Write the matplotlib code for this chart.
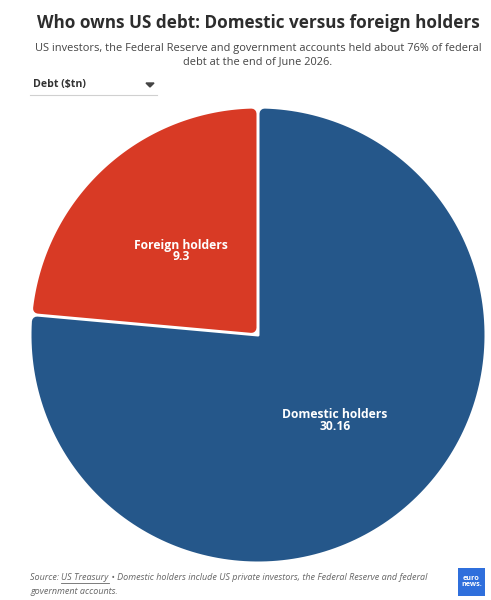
import matplotlib
matplotlib.use("Agg")
import numpy as np
import matplotlib.pyplot as plt
from matplotlib.patches import FancyBboxPatch, Polygon
from matplotlib.lines import Line2D

plt.rcParams['font.family'] = ['Open Sans', 'DejaVu Sans']

# data
labels = ["Foreign holders", "Domestic holders"]
values = [9.3, 30.16]
colors = ["#d83a25", "#25578a"]

title = "Who owns US debt: Domestic versus foreign holders"
subtitle = ("US investors, the Federal Reserve and government accounts held about 76% of federal\n"
            "debt at the end of June 2026.")
dropdown = "Debt ($tn)"

W, H = 491, 600
fig = plt.figure(figsize=(W / 100, H / 100), dpi=100)
# one axes over the whole figure, one data unit = one pixel
ax = fig.add_axes([0, 0, 1, 1])
ax.set_xlim(0, W)
ax.set_ylim(H, 0)
ax.axis("off")


def rounded_wedge(cx, cy, R, a0, a1, corner, gap):
    """Inset wedge polygon (angles in degrees, ccw), to be stroked with width 2*corner."""
    e = corner + gap / 2
    alpha = a1 - a0
    t = np.sqrt((R - e) ** 2 - e ** 2)
    dlt = np.degrees(np.arctan2(e, t))
    arc = np.radians(np.linspace(a0 + dlt, a1 - dlt, 200))
    pts = [(R - e) * np.cos(arc), (R - e) * np.sin(arc)]
    xs, ys = list(pts[0]), list(pts[1])
    if alpha < 180:
        mid = np.radians((a0 + a1) / 2)
        d0 = e / np.sin(np.radians(alpha / 2))
        xs.append(d0 * np.cos(mid))
        ys.append(d0 * np.sin(mid))
    else:
        inner = np.radians(np.linspace(a1 - 90, a0 + 90, 60))
        xs += list(e * np.cos(inner))
        ys += list(e * np.sin(inner))
    return np.column_stack([cx + np.array(xs), cy - np.array(ys)])


# pie
cx, cy, R = 258, 335, 228
corner, gap = 5, 3
fracs = np.array(values) / np.sum(values)
start = 90.0
for frac, col in zip(fracs, colors):
    end = start + 360 * frac
    poly = Polygon(rounded_wedge(cx, cy, R, start, end, corner, gap), closed=True,
                   facecolor=col, edgecolor=col, linewidth=2 * corner * 0.72)
    poly.set_joinstyle("round")
    ax.add_patch(poly)
    start = end

# slice labels
label_pos = [(181, 251), (335, 420)]
for lab, val, (px, py) in zip(labels, values, label_pos):
    ax.text(px, py, f"{lab}\n{val:g}", ha="center", va="center",
            fontsize=8.7, fontweight="bold", color="white", linespacing=0.9)

# header
ax.text(258, 23, title, ha="center", va="center", fontsize=12.3,
        fontweight="bold", color="#2d2d2d")
ax.text(258, 55, subtitle, ha="center", va="center", fontsize=7.9,
        color="#444444", linespacing=1.3)

# dropdown selector
ax.text(33, 85, dropdown, ha="left", va="center", fontsize=7.6,
        fontweight="bold", color="#333333")
ax.add_patch(Polygon([[146, 83], [154, 83], [150, 87]], closed=True, color="#444444"))
ax.add_line(Line2D([30, 157], [94.5, 94.5], color="#d0d0d0", lw=0.8))

# footer
renderer = fig.canvas.get_renderer()
inv = ax.transData.inverted()
fs = 6.5
gray = "#666666"
t = ax.text(30, 578, "Source: ", ha="left", va="center", fontsize=fs,
            style="italic", color=gray)
x1 = inv.transform(t.get_window_extent(renderer).get_points())[1, 0]
t2 = ax.text(x1, 578, "US Treasury", ha="left", va="center", fontsize=fs,
             style="italic", color=gray)
p2 = inv.transform(t2.get_window_extent(renderer).get_points())
ax.add_line(Line2D([p2[0, 0], p2[1, 0]], [583, 583], color=gray, lw=0.6))
ax.text(p2[1, 0], 578, " \u2022 Domestic holders include US private investors, the Federal Reserve and federal",
        ha="left", va="center", fontsize=fs, style="italic", color=gray)
ax.text(30, 591, "government accounts.", ha="left", va="center", fontsize=fs,
        style="italic", color=gray)

# logo
ax.add_patch(FancyBboxPatch((458, 568), 27, 28, boxstyle="square,pad=0",
                            facecolor="#2f6fdc", edgecolor="none"))
ax.text(471.5, 581.5, "euro\nnews.", ha="center", va="center", fontsize=5.2,
        color="white", fontweight="bold", linespacing=0.8)

fig.savefig("out.png", dpi=100, facecolor="white")
